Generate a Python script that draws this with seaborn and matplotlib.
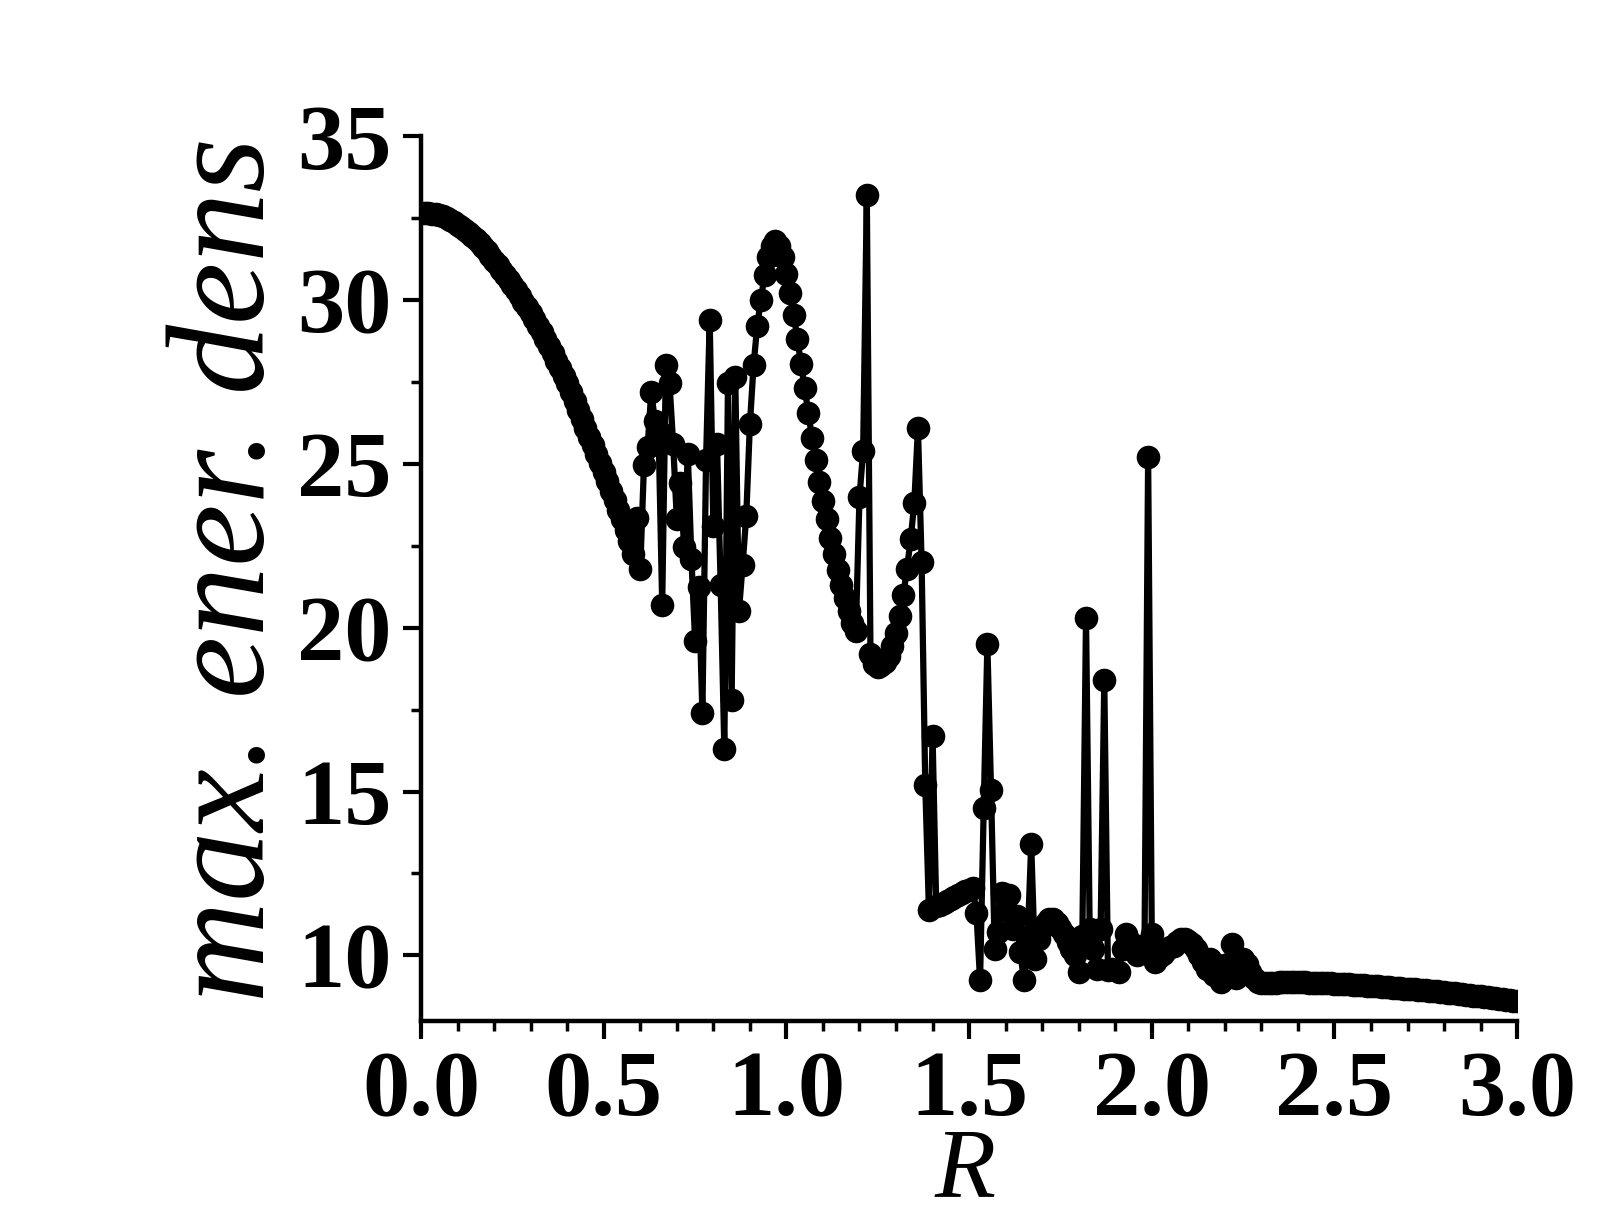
import numpy as np
import pandas as pd
import matplotlib
matplotlib.use("Agg")
import matplotlib.pyplot as plt
from matplotlib.ticker import MultipleLocator, FormatStrFormatter
import seaborn as sns

sns.set_style("ticks")
plt.rcParams['font.family'] = 'serif'
plt.rcParams['font.serif'] = ['Liberation Serif', 'DejaVu Serif']
plt.rcParams['font.weight'] = 'bold'
plt.rcParams['text.color'] = 'black'
plt.rcParams['axes.edgecolor'] = 'black'
plt.rcParams['xtick.color'] = 'black'
plt.rcParams['ytick.color'] = 'black'

# R sampled on a 0.01 grid from 0 to 3 (301 points)
R = np.round(np.linspace(0, 3, 301), 2)

# max. energy density, split by region
dens_a = [  # R = 0.00 .. 0.58, smooth decay
    32.65, 32.65, 32.64, 32.63, 32.62, 32.60, 32.56, 32.51, 32.45, 32.38,
    32.30, 32.22, 32.13, 32.04, 31.95, 31.85, 31.73, 31.61, 31.48, 31.34,
    31.20, 31.05, 30.90, 30.75, 30.60, 30.45, 30.29, 30.12, 29.95, 29.78,
    29.60, 29.41, 29.21, 29.01, 28.81, 28.60, 28.38, 28.15, 27.92, 27.69,
    27.45, 27.19, 26.92, 26.65, 26.38, 26.10, 25.83, 25.56, 25.29, 25.02,
    24.75, 24.47, 24.18, 23.89, 23.60, 23.30, 22.98, 22.63, 22.25,
]
dens_b = [  # R = 0.59 .. 1.40, oscillating part
    23.35,
    21.80, 24.95, 25.50, 27.20, 26.30, 26.00, 20.70, 28.00, 27.45, 25.60,
    23.30, 24.40, 22.45, 25.30, 22.10, 19.60, 21.25, 17.40, 25.10, 29.40,
    23.10, 25.60, 21.30, 16.30, 27.45, 17.80, 27.65, 20.50, 21.90, 23.40,
    26.20, 28.00, 29.20, 30.00, 30.75, 31.30, 31.65, 31.80, 31.65, 31.30,
    30.80, 30.20, 29.55, 28.80, 28.05, 27.30, 26.55, 25.80, 25.10, 24.45,
    23.85, 23.30, 22.75, 22.25, 21.75, 21.30, 20.90, 20.50, 20.15, 19.90,
    24.00, 25.40, 33.20, 19.20, 18.90, 18.80, 18.85, 18.95, 19.15, 19.45,
    19.85, 20.35, 21.00, 21.80, 22.70, 23.80, 26.10, 22.00, 15.20, 11.40,
    16.70,
]
dens_c = [  # R = 1.41 .. 2.30, low plateau with spikes
    11.50, 11.55, 11.60, 11.65, 11.72, 11.78, 11.85, 11.90, 11.95,
    12.00, 12.05, 11.30, 9.25, 14.50, 19.50, 15.05, 10.20, 10.70, 11.90,
    11.40, 11.85, 10.80, 11.20, 10.10, 9.25, 10.40, 13.40, 9.90, 10.50,
    10.85, 11.00, 11.10, 11.10, 11.00, 10.85, 10.65, 10.40, 10.20, 10.00,
    9.50, 10.60, 20.30, 10.80, 10.20, 9.60, 10.80, 18.40, 9.55, 9.60,
    9.55, 9.50, 10.20, 10.65, 10.40, 10.20, 10.00, 10.30, 10.10, 25.20,
    10.65, 9.80, 9.95, 10.05, 10.15, 10.25, 10.30, 10.40, 10.50, 10.50,
    10.45, 10.35, 10.20, 10.00, 9.80, 9.60, 9.90, 9.40, 9.70, 9.20,
    9.50, 9.75, 10.35, 9.30, 9.60, 9.90, 9.75, 9.50, 9.30, 9.20,
    9.15,
]
dens_d = [  # R = 2.31 .. 3.00, slow tail
    9.15, 9.16, 9.17, 9.17, 9.18, 9.18, 9.18, 9.18, 9.18,
    9.18, 9.18, 9.18, 9.17, 9.17, 9.17, 9.16, 9.16, 9.15, 9.15,
    9.14, 9.14, 9.13, 9.13, 9.12, 9.11, 9.11, 9.10, 9.09, 9.08,
    9.08, 9.07, 9.06, 9.05, 9.04, 9.03, 9.02, 9.01, 9.00, 8.99,
    8.98, 8.97, 8.96, 8.95, 8.94, 8.93, 8.92, 8.91, 8.90, 8.89,
    8.88, 8.86, 8.85, 8.84, 8.83, 8.81, 8.80, 8.79, 8.77, 8.76,
    8.75, 8.73, 8.72, 8.70, 8.69, 8.67, 8.66, 8.64, 8.63, 8.61,
    8.60,
]

dens = dens_a + dens_b + dens_c + dens_d
df = pd.DataFrame({'R': R, 'dens': dens})

fig = plt.figure(figsize=(16.09, 12.32), dpi=100)
ax = fig.add_axes([0.2617, 0.1713, 0.6812, 0.7183])

sns.lineplot(data=df, x='R', y='dens', ax=ax, color='black', linewidth=4.5,
             marker='o', markersize=17, markeredgewidth=0,
             sort=False, estimator=None)

ax.set_xlim(0, 3)
ax.set_ylim(8, 35)
ax.xaxis.set_major_locator(MultipleLocator(0.5))
ax.xaxis.set_minor_locator(MultipleLocator(0.1))
ax.yaxis.set_major_locator(MultipleLocator(5))
ax.yaxis.set_minor_locator(MultipleLocator(2.5))
ax.xaxis.set_major_formatter(FormatStrFormatter('%.1f'))
ax.yaxis.set_major_formatter(FormatStrFormatter('%d'))

sns.despine(ax=ax)
for side in ['left', 'bottom']:
    ax.spines[side].set_linewidth(3.2)
ax.tick_params(which='major', direction='out', length=13, width=3,
               labelsize=68, pad=8)
ax.tick_params(which='minor', direction='out', length=7, width=2.5)

ax.set_xlabel('')
ax.set_ylabel('')
fig.text(231 / 1609, 1 - 569 / 1232, 'max. ener. dens', rotation=90,
         ha='center', va='center', fontsize=101, style='italic',
         fontweight='normal')
fig.text(965 / 1609, 1 - 1172 / 1232, 'R', ha='center', va='center',
         fontsize=72, style='italic', fontweight='normal')

fig.savefig('out.png', dpi=100)
